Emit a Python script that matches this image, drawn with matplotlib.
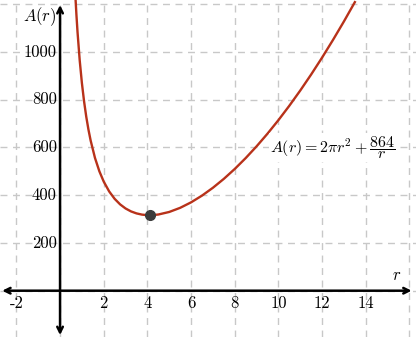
import matplotlib
matplotlib.use("Agg")
import matplotlib.pyplot as plt

plt.rcParams['mathtext.fontset'] = 'cm'

r_vals = [0.7, 0.75, 0.8, 0.9, 1.0, 1.1, 1.2, 1.3, 1.4, 1.6, 1.8, 2.0, 2.25, 2.5,
          2.75, 3.0, 3.25, 3.5, 3.75, 4.0, 4.25, 4.5, 5.0, 5.5, 6.0, 6.5, 7.0,
          7.5, 8.0, 8.5, 9.0, 9.5, 10.0, 10.5, 11.0, 11.5, 12.0, 12.5, 13.0, 13.5]
a_vals = [1237.4, 1155.5, 1084.0, 965.1, 870.3, 793.1, 729.0, 675.2, 629.5, 556.1,
          500.4, 457.1, 415.8, 384.9, 361.7, 344.5, 332.2, 323.9, 318.8, 316.5,
          316.8, 319.2, 329.9, 347.2, 370.2, 398.4, 431.3, 468.6, 510.1, 555.6,
          604.9, 658.0, 714.7, 775.0, 838.8, 906.1, 976.8, 1050.9, 1128.3, 1209.1]
min_r = [4.1]
min_a = [316.3]

x_ticks = [-2, 2, 4, 6, 8, 10, 12, 14]
y_ticks = [200, 400, 600, 800, 1000]
x_grid = [-2, 0, 2, 4, 6, 8, 10, 12, 14, 16]
y_grid = [0, 200, 400, 600, 800, 1000, 1200]

fig = plt.figure(figsize=(4.16, 3.37), dpi=100)
ax = fig.add_axes([0, 0, 1, 1])
ax.set_xlim(-2.75, 16.3)
ax.set_ylim(-194, 1218)
ax.axis('off')

for gx in x_grid:
    ax.axvline(gx, color='#c8c8c8', lw=1, ls=(0, (5, 4)), zorder=0)
for gy in y_grid:
    ax.axhline(gy, color='#c8c8c8', lw=1, ls=(0, (5, 4)), zorder=0)

# axes with arrows
arr = dict(arrowstyle='<->', color='black', lw=1.8, shrinkA=0, shrinkB=0,
           mutation_scale=10)
ax.annotate('', xy=(16.1, 0), xytext=(-2.65, 0), arrowprops=arr)
ax.annotate('', xy=(0, 1197), xytext=(0, -186), arrowprops=arr)

ax.plot(r_vals, a_vals, color='#b8321a', lw=1.7, zorder=3)
ax.plot(min_r, min_a, 'o', color='#3c3c3c', ms=7, zorder=4)

for t in x_ticks:
    ax.text(t, -20, str(t), ha='center', va='top', fontsize=12,
            family='cmr10')
for t in y_ticks:
    ax.text(-0.15, t, str(t), ha='right', va='center', fontsize=12,
            family='cmr10')

ax.text(-0.15, 1150, r'$A(r)$', ha='right', va='center', fontsize=12)
ax.text(15.4, 30, r'$r$', ha='center', va='bottom', fontsize=12)
ax.text(12.5, 600, r'$A(r) = 2\pi r^2 + \dfrac{864}{r}$', ha='center',
        va='center', fontsize=11.5, zorder=5,
        bbox=dict(facecolor='white', edgecolor='none', pad=1))

fig.savefig('out.png', dpi=100)
